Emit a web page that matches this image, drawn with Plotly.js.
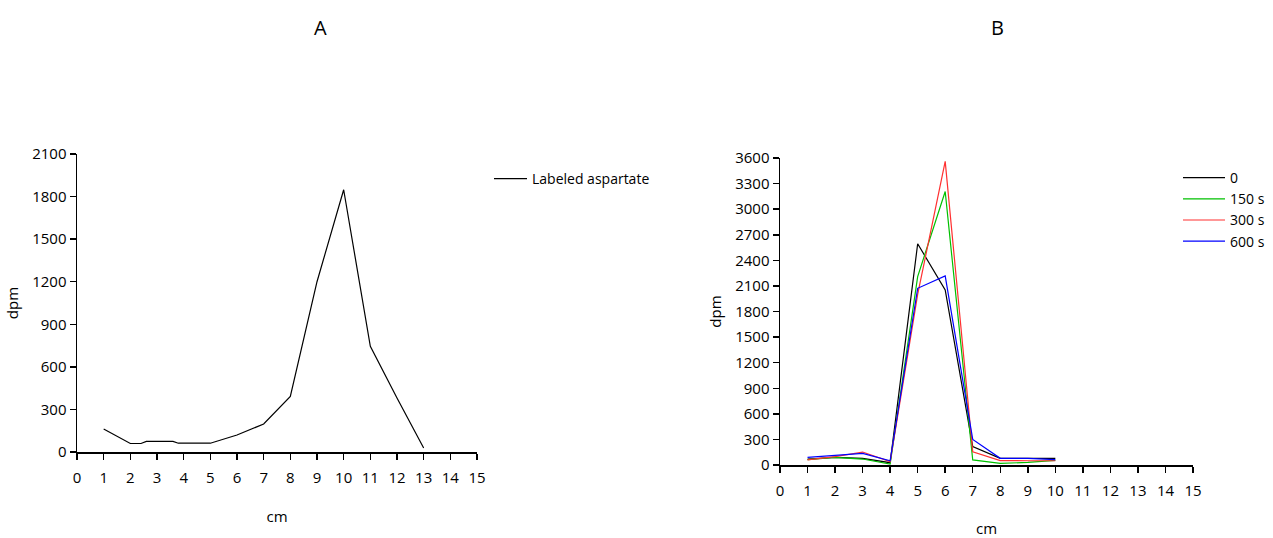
<!DOCTYPE html>
<html>
<head>
<meta charset="utf-8">
<script src="https://cdn.plot.ly/plotly-3.0.1.min.js"></script>
<style>html,body{margin:0;padding:0;background:#fff;}#chart{width:1273px;height:538px;}</style>
</head>
<body>
<div id="chart"></div>
<script>
// Panel A
const cmA = [1, 2, 2.4, 2.6, 3.6, 3.8, 5, 6, 7, 8, 9, 10, 11, 12, 13];
const aspartate = [162, 60, 60, 75, 75, 62, 62, 120, 197, 392, 1200, 1848, 745, 380, 28];

// Panel B
const cmB = [1, 2, 3, 4, 5, 6, 7, 8, 9, 10];
const s0   = [70, 90, 78, 27, 2594, 2054, 215, 78, 78, 78];
const s150 = [63, 90, 70, 12, 2210, 3207, 59, 20, 30, 55];
const s300 = [59, 98, 152, 39, 2000, 3560, 156, 51, 50, 50];
const s600 = [90, 117, 137, 50, 2072, 2217, 300, 78, 78, 62];

const seriesNames = ['0', '150 s', '300 s', '600 s'];
const seriesColors = ['#000000', '#00c000', '#ff3030', '#0000ff'];
const seriesB = [s0, s150, s300, s600];

const ticksX = [0,1,2,3,4,5,6,7,8,9,10,11,12,13,14,15];

const FONT = 'Open Sans, sans-serif';
const W = 1273, H = 538;

const traces = [{
  x: cmA, y: aspartate, type: 'scatter', mode: 'lines',
  name: 'Labeled aspartate', line: {color: '#000', width: 1.2},
  xaxis: 'x', yaxis: 'y', legend: 'legend'
}];
seriesB.forEach((s, i) => traces.push({
  x: cmB, y: s, type: 'scatter', mode: 'lines',
  name: seriesNames[i], line: {color: seriesColors[i], width: 1.2},
  xaxis: 'x2', yaxis: 'y2', legend: 'legend2'
}));

function xax(dom, anchor, standoff) {
  return {
    domain: dom, anchor: anchor, range: [0, 15], tickvals: ticksX, ticktext: ticksX.map(String),
    showgrid: false, zeroline: false, showline: true, linecolor: '#000', linewidth: 1.5,
    ticks: 'outside', ticklen: 6, tickwidth: 1.5, tickcolor: '#000', ticklabelstandoff: 5,
    tickfont: {family: FONT, size: 15, color: '#000'},
    title: {text: 'cm', font: {family: FONT, size: 15, color: '#000'}, standoff: standoff},
    fixedrange: true
  };
}
function yax(dom, anchor, max, step) {
  const vals = []; for (let v = 0; v <= max; v += step) vals.push(v);
  return {
    domain: dom, anchor: anchor, range: [0, max], tickvals: vals, ticktext: vals.map(String),
    showgrid: false, zeroline: false, showline: true, linecolor: '#000', linewidth: 1.5,
    ticks: 'outside', ticklen: 6, tickwidth: 1.5, tickcolor: '#000',
    tickfont: {family: FONT, size: 15, color: '#000'},
    title: {text: 'dpm', font: {family: FONT, size: 15, color: '#000'}, standoff: 10},
    fixedrange: true
  };
}

const layout = {
  width: W, height: H, margin: {l: 0, r: 0, t: 0, b: 0, autoexpand: false},
  paper_bgcolor: '#fff', plot_bgcolor: '#fff',
  font: {family: FONT, color: '#000'},
  xaxis: xax([77 / W, 477 / W], 'y', 26),
  yaxis: yax([1 - 452 / H, 1 - 154 / H], 'x', 2100, 300),
  xaxis2: xax([780 / W, 1193 / W], 'y2', 28),
  yaxis2: yax([1 - 465 / H, 1 - 158 / H], 'x2', 3600, 300),
  legend: {x: 489 / W, y: 1 - 163 / H, xanchor: 'left', yanchor: 'top',
           font: {family: FONT, size: 14, color: '#000'}, bgcolor: 'rgba(0,0,0,0)', itemwidth: 33},
  legend2: {x: 1178 / W, y: 1 - 162 / H, xanchor: 'left', yanchor: 'top', tracegroupgap: 0,
            font: {family: FONT, size: 14, color: '#000'}, bgcolor: 'rgba(0,0,0,0)', itemwidth: 42},
  annotations: [
    {text: 'A', x: 320 / W, y: 1 - 28 / H, xref: 'paper', yref: 'paper', xanchor: 'center', yanchor: 'middle',
     showarrow: false, font: {family: FONT, size: 20, color: '#000'}},
    {text: 'B', x: 997 / W, y: 1 - 28 / H, xref: 'paper', yref: 'paper', xanchor: 'center', yanchor: 'middle',
     showarrow: false, font: {family: FONT, size: 20, color: '#000'}}
  ],
  showlegend: true
};

Plotly.newPlot('chart', traces, layout, {staticPlot: true, displayModeBar: false});
</script>
</body>
</html>
